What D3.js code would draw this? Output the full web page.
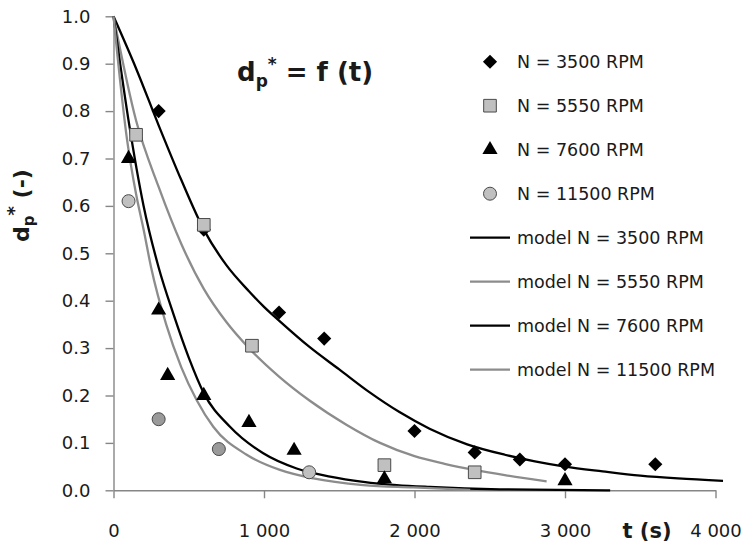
<!DOCTYPE html>
<html>
<head>
<meta charset="utf-8">
<script src="https://cdnjs.cloudflare.com/ajax/libs/d3/7.8.5/d3.min.js"></script>
<style>
  body { margin: 0; background: #fff; }
  svg { display: block; }
  text { font-family: "DejaVu Sans", sans-serif; fill: #1a1a1a; }
</style>
</head>
<body>
<div id="chart"></div>
<script>
'use strict';

// measured points  [t (s), dp*]
var pts3500  = [[300, 0.80], [600, 0.55], [1100, 0.375], [1400, 0.32], [2000, 0.125], [2400, 0.08], [2700, 0.065], [3000, 0.055], [3600, 0.055]];
var pts5550  = [[150, 0.75], [600, 0.56], [920, 0.305], [1800, 0.053], [2400, 0.038]];
var pts7600  = [[100, 0.70], [300, 0.38], [360, 0.242], [600, 0.20], [900, 0.143], [1200, 0.084], [1800, 0.024], [3000, 0.02]];
var pts11500 = [[100, 0.61], [300, 0.15], [700, 0.087], [1300, 0.038]];

// model curves
var model3500  = [[0, 1], [150, 0.89], [300, 0.77], [450, 0.655], [600, 0.55], [750, 0.475], [900, 0.42], [1000, 0.387], [1100, 0.358], [1300, 0.303], [1500, 0.255], [1700, 0.207], [1900, 0.165], [2100, 0.13], [2350, 0.097], [2600, 0.075], [2800, 0.061], [3000, 0.05], [3250, 0.04], [3500, 0.031], [3750, 0.025], [4050, 0.02]];
var model5550  = [[0, 1], [150, 0.78], [300, 0.64], [450, 0.52], [600, 0.425], [750, 0.355], [900, 0.30], [1100, 0.24], [1300, 0.19], [1550, 0.138], [1771, 0.1], [2000, 0.072], [2200, 0.056], [2400, 0.043], [2600, 0.032], [2878, 0.019]];
var model7600  = [[0, 1], [100, 0.78], [200, 0.60], [300, 0.47], [400, 0.37], [500, 0.28], [600, 0.205], [774, 0.134], [995, 0.078], [1217, 0.046], [1439, 0.029], [1660, 0.018], [1882, 0.011], [2100, 0.007], [2568, 0.002], [3300, 0]];
var model11500 = [[0, 1], [90, 0.74], [150, 0.625], [200, 0.55], [250, 0.47], [350, 0.35], [450, 0.26], [553, 0.19], [663, 0.134], [885, 0.075], [1106, 0.043], [1328, 0.025], [1660, 0.011], [1992, 0.006], [2370, 0.001]];

var xTicks = [0, 1000, 2000, 3000, 4000];
var yTicks = [0, 0.1, 0.2, 0.3, 0.4, 0.5, 0.6, 0.7, 0.8, 0.9, 1.0];

var pointLabels = ['N = 3500 RPM', 'N = 5550 RPM', 'N = 7600 RPM', 'N = 11500 RPM'];
var modelLabels = ['model N = 3500 RPM', 'model N = 5550 RPM', 'model N = 7600 RPM', 'model N = 11500 RPM'];

var circleFills = ['#c0c0c0', '#9a9a9a', '#9a9a9a', '#c0c0c0'];

var W = 748, H = 547;
var x = d3.scaleLinear().domain([0, 4000]).range([113.5, 715.5]);
var y = d3.scaleLinear().domain([0, 1]).range([490.3, 16.3]);

var svg = d3.select('#chart').append('svg')
  .attr('width', W)
  .attr('height', H);

var fmtX = d3.formatLocale({decimal: '.', thousands: '\u00a0', grouping: [3], currency: ['', '']}).format(',');

// axes
var gx = svg.append('g')
  .attr('transform', 'translate(0,' + y(0) + ')')
  .call(d3.axisBottom(x).tickValues(xTicks).tickFormat(fmtX).tickSize(8).tickPadding(26).tickSizeOuter(0));
var gy = svg.append('g')
  .attr('transform', 'translate(' + x(0) + ',0)')
  .call(d3.axisLeft(y).tickValues(yTicks).tickFormat(d3.format('.1f')).tickSize(8).tickPadding(15).tickSizeOuter(0));

[gx, gy].forEach(function(g){
  g.select('.domain').attr('stroke', '#868686').attr('stroke-width', 1.4);
  g.selectAll('.tick line').attr('stroke', '#868686').attr('stroke-width', 1.4);
  g.selectAll('.tick text')
    .style('font-family', '"DejaVu Sans", sans-serif')
    .style('font-size', '18px')
    .attr('fill', '#1a1a1a');
});

// model lines
var line = d3.line()
  .x(function(d){ return x(d[0]); })
  .y(function(d){ return y(d[1]); })
  .curve(d3.curveMonotoneX);

var models = [
  {data: model3500, color: '#000'},
  {data: model5550, color: '#8c8c8c'},
  {data: model7600, color: '#000'},
  {data: model11500, color: '#8c8c8c'}
];

svg.selectAll('path.model')
  .data(models)
  .enter().append('path')
    .attr('class', 'model')
    .attr('d', function(d){ return line(d.data); })
    .attr('fill', 'none')
    .attr('stroke', function(d){ return d.color; })
    .attr('stroke-width', 2.3);

// markers
var diamond = d3.symbol().type(d3.symbolSquare).size(100)();
var square = d3.symbol().type(d3.symbolSquare).size(160)();
var tri = d3.symbol().type(d3.symbolTriangle).size(100)();

svg.selectAll('path.p3500')
  .data(pts3500)
  .enter().append('path')
    .attr('d', diamond)
    .attr('transform', function(d){ return 'translate(' + x(d[0]) + ',' + y(d[1]) + ') rotate(45)'; })
    .attr('fill', '#000');

svg.selectAll('path.p5550')
  .data(pts5550)
  .enter().append('path')
    .attr('d', square)
    .attr('transform', function(d){ return 'translate(' + x(d[0]) + ',' + y(d[1]) + ')'; })
    .attr('fill', '#c0c0c0')
    .attr('stroke', '#4a4a4a')
    .attr('stroke-width', 1);

svg.selectAll('path.p7600')
  .data(pts7600)
  .enter().append('path')
    .attr('d', tri)
    .attr('transform', function(d){ return 'translate(' + x(d[0]) + ',' + y(d[1]) + ')'; })
    .attr('fill', '#000');

svg.selectAll('circle.p11500')
  .data(pts11500)
  .enter().append('circle')
    .attr('cx', function(d){ return x(d[0]); })
    .attr('cy', function(d){ return y(d[1]); })
    .attr('r', 6.5)
    .attr('fill', function(d, i){ return circleFills[i]; })
    .attr('stroke', '#4a4a4a')
    .attr('stroke-width', 1);

// title
var title = svg.append('text')
  .attr('x', 237)
  .attr('y', 81)
  .style('font-size', '26px')
  .style('font-weight', 'bold');
title.append('tspan').text('d');
title.append('tspan').attr('dy', 6).style('font-size', '17px').text('p');
title.append('tspan').attr('dy', -17).style('font-size', '17px').text('*');
title.append('tspan').attr('dy', 11).text(' = f (t)');

// y label
var ylab = svg.append('text')
  .attr('transform', 'translate(29,242) rotate(-90)')
  .style('font-size', '22px')
  .style('font-weight', 'bold');
ylab.append('tspan').text('d');
ylab.append('tspan').attr('dy', 5).style('font-size', '15px').text('p');
ylab.append('tspan').attr('dy', -14).style('font-size', '18px').text('*');
ylab.append('tspan').attr('dy', 9).text(' (-)');

// x label
svg.append('text')
  .attr('x', 647)
  .attr('y', 538)
  .attr('text-anchor', 'middle')
  .style('font-size', '21px')
  .style('font-weight', 'bold')
  .text('t (s)');

// legend
var legX = 490, legY = 61.7, legStep = 44;
var leg = svg.append('g');

var legendItems = pointLabels.map(function(l, i){ return {label: l, kind: 'pt', i: i}; })
  .concat(modelLabels.map(function(l, i){ return {label: l, kind: 'line', i: i}; }));

legendItems.forEach(function(item, k){
  var cy = legY + k * legStep;
  if (item.kind === 'line') {
    leg.append('line')
      .attr('x1', 470).attr('x2', 510)
      .attr('y1', cy).attr('y2', cy)
      .attr('stroke', models[item.i].color)
      .attr('stroke-width', 2.3);
  } else if (item.i === 0) {
    leg.append('path').attr('d', diamond).attr('fill', '#000')
      .attr('transform', 'translate(' + legX + ',' + cy + ') rotate(45)');
  } else if (item.i === 1) {
    leg.append('path').attr('d', square).attr('fill', '#c0c0c0').attr('stroke', '#4a4a4a')
      .attr('transform', 'translate(' + legX + ',' + cy + ')');
  } else if (item.i === 2) {
    leg.append('path').attr('d', tri).attr('fill', '#000')
      .attr('transform', 'translate(' + legX + ',' + cy + ')');
  } else {
    leg.append('circle').attr('cx', legX).attr('cy', cy).attr('r', 6.5)
      .attr('fill', '#c0c0c0').attr('stroke', '#4a4a4a');
  }
  leg.append('text')
    .attr('x', 517)
    .attr('y', cy + 6.3)
    .style('font-size', '17.5px')
    .text(item.label);
});
</script>
</body>
</html>
